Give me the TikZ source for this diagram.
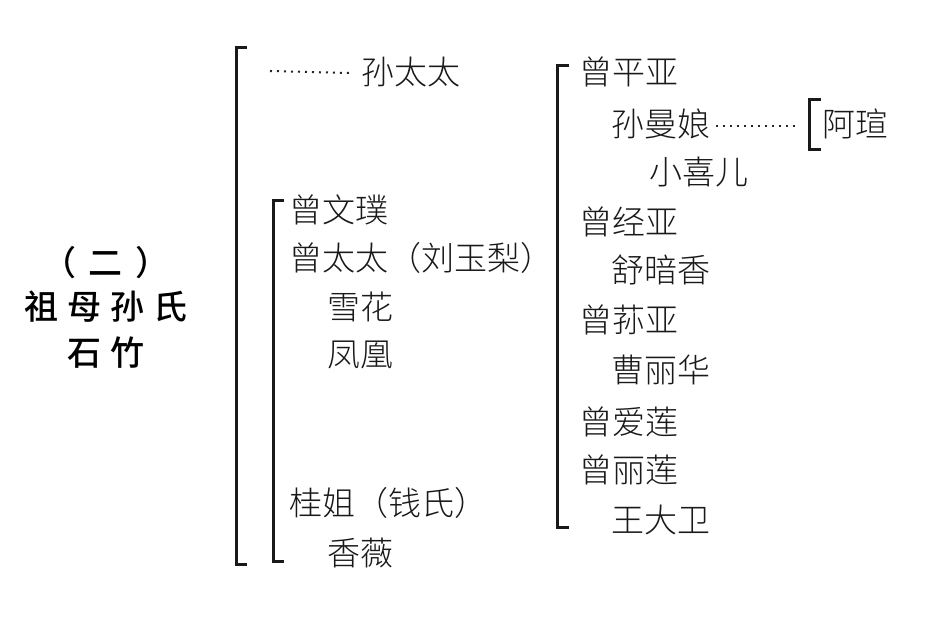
\documentclass[tikz,border=0pt]{standalone}
\usepackage{fontspec}
\newfontfamily\cjk{Noto Sans CJK SC Light}
\newfontfamily\cjkt{Noto Sans CJK SC Medium}
\begin{document}
\begin{tikzpicture}[x=1pt,y=-1pt,
  txt/.style={anchor=west,inner sep=0pt,text=black!90,font=\cjk\fontsize{33}{33}\selectfont},
  ttl/.style={anchor=center,inner sep=0pt,text=black,font=\cjkt\fontsize{34}{34}\selectfont},
  brk/.style={line width=3pt,black!90},
  dots/.style={line width=2pt,black!85,dash pattern=on 2pt off 5pt}]
\useasboundingbox[fill=white] (0,0) rectangle (930,643);
% left title
\node[ttl] (t1) at (106,263) {（\hspace{13pt}二\hspace{13pt}）};
\node[ttl] (t2) at (106,307) {祖\hspace{9pt}母\hspace{9pt}孙\hspace{9pt}氏};
\node[ttl] (t3) at (106,353) {石\hspace{9pt}竹};
% brackets
\draw[brk] (247,47) -- (236,47) -- (236,564) -- (247,564);
\draw[brk] (284,200) -- (273,200) -- (273,561) -- (284,561);
\draw[brk] (569,65) -- (557,65) -- (557,527) -- (569,527);
\draw[brk] (821,99) -- (809,99) -- (809,149) -- (821,149);
% middle column
\node[txt] (sun) at (361,72) {孙太太};
\node[txt] (wenpu) at (289,210) {曾文璞};
\node[txt] (zengtt) at (289,258) {曾太太（刘玉梨）};
\node[txt] (xuehua) at (327,307) {雪花};
\node[txt] (fenghuang) at (327,355) {凤凰};
\node[txt] (guijie) at (289,503) {桂姐（钱氏）};
\node[txt] (xiangwei) at (327,553) {香薇};
% right column
\node[txt] (pingya) at (579,72) {曾平亚};
\node[txt] (manniang) at (611,124) {孙曼娘};
\node[txt] (xiaoxi) at (649,172) {小喜儿};
\node[txt] (jingya) at (579,222) {曾经亚};
\node[txt] (shuan) at (611,270) {舒暗香};
\node[txt] (sunya) at (579,320) {曾荪亚};
\node[txt] (caolihua) at (611,370) {曹丽华};
\node[txt] (ailian) at (579,422) {曾爱莲};
\node[txt] (lilian) at (579,470) {曾丽莲};
\node[txt] (wangdw) at (611,520) {王大卫};
\node[txt] (axuan) at (822,124) {阿瑄};
% dotted links
\coordinate (d1) at (270,71);
\draw[dots] (d1) -- ([xshift=-12pt,yshift=-1pt]sun.west);
\draw[dots] ([xshift=6pt,yshift=-2pt]manniang.east) -- ([xshift=-25pt,yshift=-2pt]axuan.west);
\end{tikzpicture}
\end{document}
